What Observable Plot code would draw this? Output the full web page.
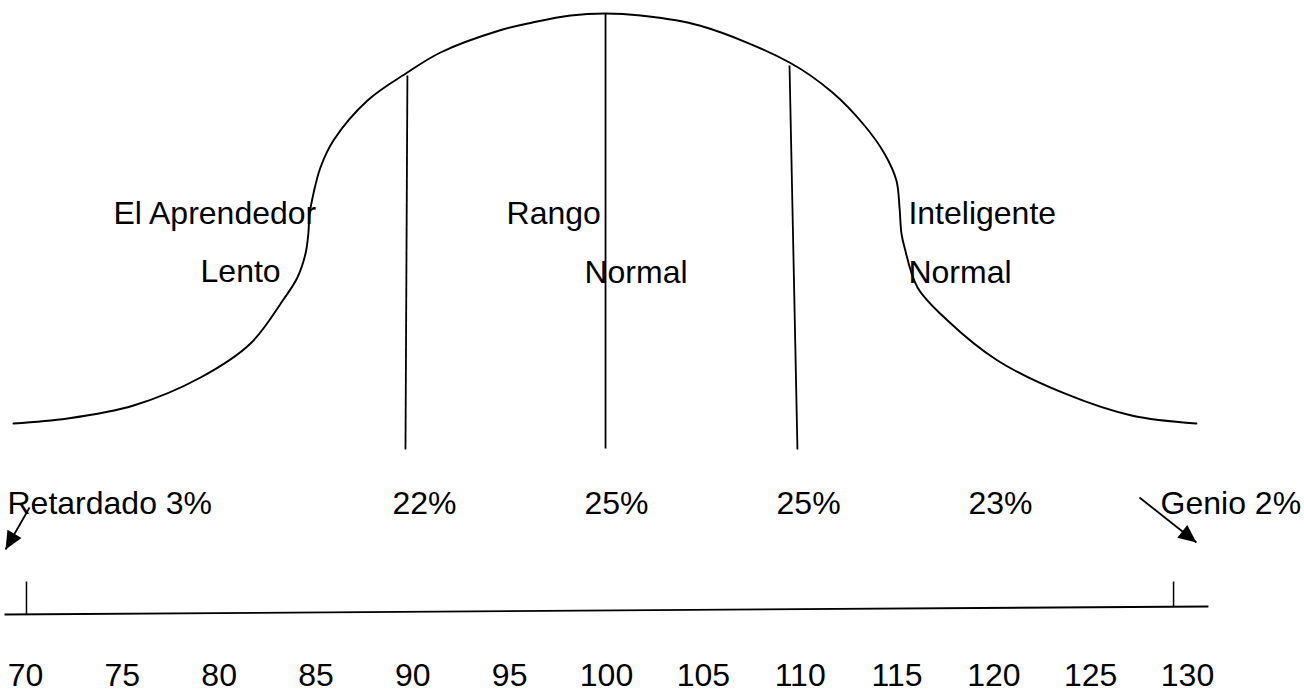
<!DOCTYPE html>
<html>
<head>
<meta charset="utf-8">
<script src="https://cdn.jsdelivr.net/npm/d3@7"></script>
<script src="https://cdn.jsdelivr.net/npm/@observablehq/plot@0.6"></script>
<style>
  html, body { margin: 0; padding: 0; background: #fff; }
  #chart svg { display: block; }
</style>
</head>
<body>
<div id="chart"></div>
<script>
// ---- Data (IQ on x, relative curve height 0..100 on y) ----
const iqTicks = [70, 75, 80, 85, 90, 95, 100, 105, 110, 115, 120, 125, 130];

// bell curve (IQ, height)
const curveIQ = [69.38, 72.17, 75.58, 79.04, 81.62, 83.32, 84.04, 84.46, 84.61, 84.66, 84.87, 85.23, 85.90, 87.66,
                 89.72, 91.43, 94.47, 96.18, 98.14, 99.95,
                 101.76, 104.80, 109.45, 111.67, 113.32, 114.35, 114.97, 115.13, 115.23, 115.39, 116.06, 117.61,
                 120.19, 123.65, 127.11, 130.46];
const curveH  = [0, 1.22, 4.39, 11.22, 19.51, 30.24, 35.61, 41.46, 46.59, 50.73, 56.10, 62.44, 69.02, 78.78,
                 85.61, 90.49, 95.85, 97.80, 99.51, 100,
                 99.51, 97.07, 88.05, 80.73, 72.68, 65.85, 59.27, 52.68, 46.34, 42.93, 33.17, 25.12,
                 15.37, 7.32, 1.95, 0];

// dividers at 90, 100, 110
const dividerTopIQ = [89.72, 99.95, 109.45];
const dividerTopH = [84.88, 100, 87.32];
const dividerBottomIQ = [89.62, 99.95, 109.86];
const dividerBottomH = [-6.34, -6.10, -6.34];

// category labels inside the curve
const curveLabels = ["El Aprendedor", "Lento", "Rango", "Normal", "Inteligente", "Normal"];
const curveLabelIQ = [74.54, 79.04, 94.84, 98.86, 115.59, 115.59];
const curveLabelH = [51.27, 37.12, 51.27, 36.88, 51.27, 36.88];

// group percentages
const groupLabels = ["Retardado 3%", "22%", "25%", "25%", "23%", "Genio 2%"];
const groupLabelIQ = [69.07, 88.95, 98.86, 108.78, 118.69, 128.61];
const groupLabelH = [-19.46, -19.46, -19.46, -19.46, -19.46, -19.46];

// arrows (start -> tip)
const arrowStartIQ = [70.21, 127.52];
const arrowStartH = [-20.49, -18.05];
const arrowTipIQ = [68.97, 130.46];
const arrowTipH = [-30.73, -29.02];

// scale line and its end ticks
const scaleLineIQ = [68.92, 131.08];
const scaleLineH = [-46.59, -44.63];
const endTickIQ = [70.05, 129.28];
const endTickTopH = [-38.54, -38.54];
const endTickBottomH = [-46.59, -44.63];
const tickLabelH = -61.41;

// ---- Build tables ----
const curve = curveIQ.map((iq, i) => ({iq, h: curveH[i]}));
const dividers = dividerTopIQ.map((v, i) => ({x1: v, y1: dividerTopH[i], x2: dividerBottomIQ[i], y2: dividerBottomH[i]}));
const inner = curveLabels.map((t, i) => ({t, iq: curveLabelIQ[i], h: curveLabelH[i]}));
const groups = groupLabels.map((t, i) => ({t, iq: groupLabelIQ[i], h: groupLabelH[i]}));
const ticks = iqTicks.map(v => ({v}));
const endTicks = endTickIQ.map((v, i) => ({x: v, y1: endTickTopH[i], y2: endTickBottomH[i]}));
const scaleLine = [{x1: scaleLineIQ[0], y1: scaleLineH[0], x2: scaleLineIQ[1], y2: scaleLineH[1]}];

const xDomain = [70, 130], xRange = [25, 1187];
const yDomain = [0, 100], yRange = [423, 13];
const xs = d3.scaleLinear(xDomain, xRange), ys = d3.scaleLinear(yDomain, yRange);

const arrows = arrowStartIQ.map((v, i) => {
  const dx = xs(arrowTipIQ[i]) - xs(v), dy = ys(arrowTipH[i]) - ys(arrowStartH[i]);
  return {x1: v, y1: arrowStartH[i], x2: arrowTipIQ[i], y2: arrowTipH[i],
          angle: Math.atan2(dx, -dy) * 180 / Math.PI};
});

// filled arrowhead with its tip at the origin, pointing up
const headSymbol = {
  draw(ctx, size) {
    const r = Math.sqrt(size / Math.PI);
    ctx.moveTo(0, 0);
    ctx.lineTo(-0.45 * r, r);
    ctx.lineTo(0.45 * r, r);
    ctx.closePath();
  }
};

const font = "'Liberation Sans', Arial, Helvetica, sans-serif";

const chart = Plot.plot({
  width: 1304,
  height: 692,
  margin: 0,
  style: {background: "#fff", fontFamily: font},
  x: {domain: xDomain, range: xRange, axis: null},
  y: {domain: yDomain, range: yRange, axis: null},
  marks: [
    Plot.line(curve, {x: "iq", y: "h", curve: "catmull-rom", stroke: "#000", strokeWidth: 1.9}),
    Plot.link(dividers, {x1: "x1", y1: "y1", x2: "x2", y2: "y2", stroke: "#000", strokeWidth: 1.8}),
    Plot.text(inner, {x: "iq", y: "h", text: "t", textAnchor: "start", fontSize: 32, fill: "#000"}),
    Plot.text(groups, {x: "iq", y: "h", text: "t", textAnchor: "start", fontSize: 32, fill: "#000"}),
    Plot.link(arrows, {x1: "x1", y1: "y1", x2: "x2", y2: "y2", stroke: "#000", strokeWidth: 1.8}),
    Plot.dot(arrows, {x: "x2", y: "y2", rotate: "angle", symbol: headSymbol, r: 18, fill: "#000", stroke: "none"}),
    Plot.link(scaleLine, {x1: "x1", y1: "y1", x2: "x2", y2: "y2", stroke: "#000", strokeWidth: 1.8}),
    Plot.link(endTicks, {x1: "x", y1: "y1", x2: "x", y2: "y2", stroke: "#000", strokeWidth: 1.5}),
    Plot.text(ticks, {x: "v", y: tickLabelH, text: d => String(d.v), textAnchor: "middle", fontSize: 32, fill: "#000"})
  ]
});

document.getElementById("chart").appendChild(chart);
</script>
</body>
</html>
